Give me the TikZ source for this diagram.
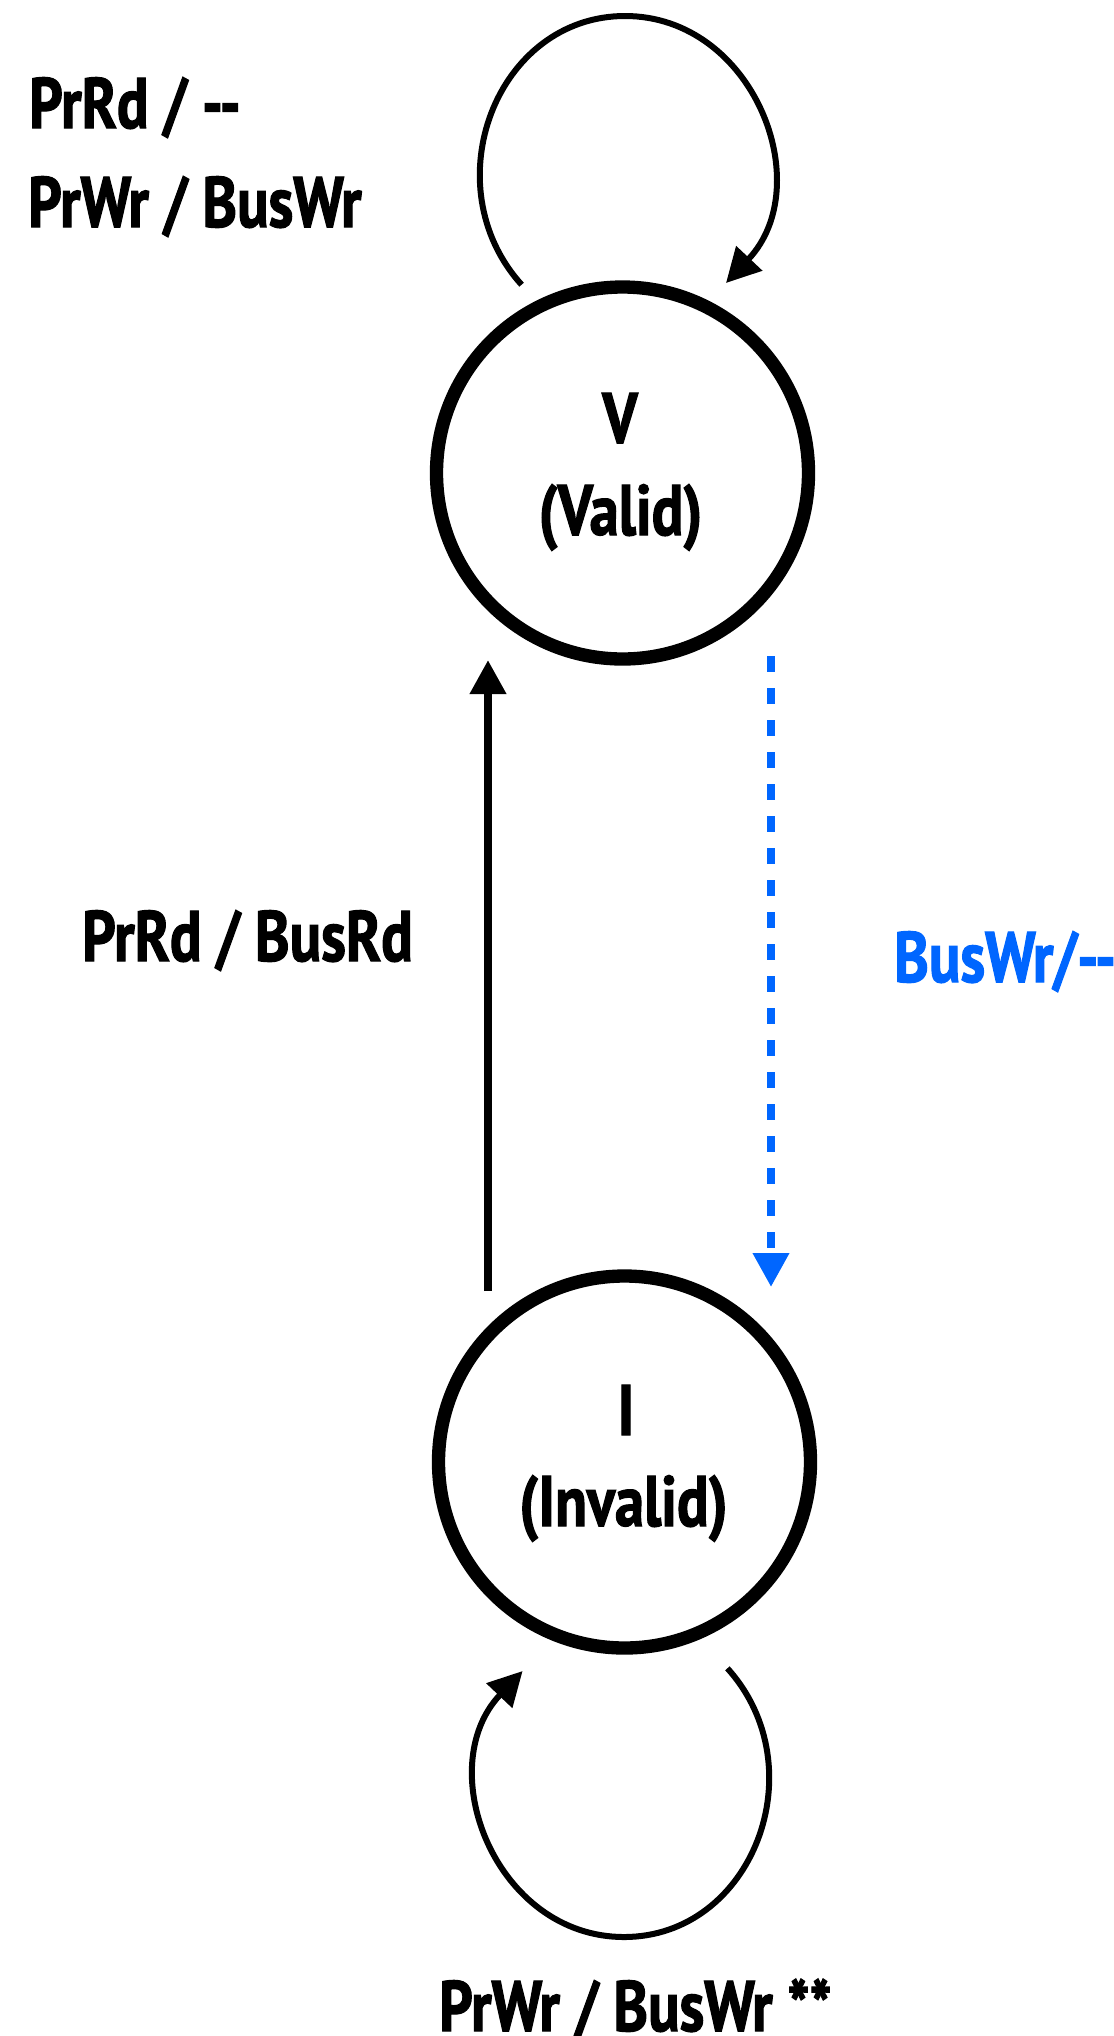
\documentclass[tikz,border=0pt]{standalone}
\usepackage{fontspec}
\setmainfont{PT Sans}[BoldFont={* Bold},BoldFeatures={FakeStretch=0.82,FakeBold=1.6}]
\usetikzlibrary{arrows.meta}
\definecolor{busblue}{RGB}{0,102,255}
\begin{document}
\begin{tikzpicture}[x=0.75pt,y=-0.75pt,
  state/.style={circle,draw,line width=10pt,minimum size=279pt,inner sep=0pt},
  lbl/.style={inner sep=0pt,font=\fontsize{53.6pt}{60pt}\selectfont\bfseries},
  conn/.style={line width=6pt,-{Triangle[length=25.5pt,width=26pt]}},
  selfloop/.style={line width=4.5pt,-{Triangle[length=25.5pt,width=26pt]}},
  dashconn/.style={busblue,line width=6pt,dash pattern=on 12pt off 12pt,-{Triangle[length=25.5pt,width=26pt]}}]
\useasboundingbox (0,0) rectangle (1114,2036);
% states
\node[state] (V) at (622.5,473) {};
\node[state] (I) at (624.5,1462) {};
\node[lbl,anchor=base] (Vname) at (620,443) {V};
\node[lbl,anchor=base] (Vfull) at (620.5,535) {(Valid)};
\node[lbl,anchor=base] (Iname) at (626,1435) {I};
\node[lbl,anchor=base] (Ifull) at (623.5,1526) {(Invalid)};
% self loop on V
\coordinate (vls) at (521.6,284.7);
\coordinate (vlt) at (625,16);
\coordinate (vle) at (726,283);
\draw[selfloop] (vls) .. controls (431.6,184.9) and (496.5,16) .. (vlt)
  .. controls (753.5,16) and (818.4,185) .. (vle);
% self loop on I
\coordinate (ils) at (727.4,1668.3);
\coordinate (ilb) at (624,1937);
\coordinate (ile) at (522.6,1671);
\draw[selfloop] (ils) .. controls (817.4,1768.1) and (752.5,1937) .. (ilb)
  .. controls (495.5,1937) and (430.6,1768) .. (ile);
% I -> V
\coordinate (iv1) at (488,1291);
\coordinate (iv2) at (488,660);
\draw[conn] (iv1) -- (iv2);
% V -> I (dashed blue)
\coordinate (vi1) at (771,656);
\coordinate (vi2) at (771,1287);
\draw[dashconn] (vi1) -- (vi2);
% labels
\node[lbl,anchor=base west] (l1) at (29,128) {PrRd / -{}-};
\node[lbl,anchor=base west] (l2) at (28,227) {PrWr / BusWr};
\node[lbl,anchor=base west] (l3) at (82,961) {PrRd / BusRd};
\node[lbl,anchor=base west,text=busblue] (l4) at (894,982) {BusWr/-{}-};
\node[lbl,anchor=base west] (l5) at (439,2031) {PrWr / BusWr **};
\end{tikzpicture}
\end{document}
